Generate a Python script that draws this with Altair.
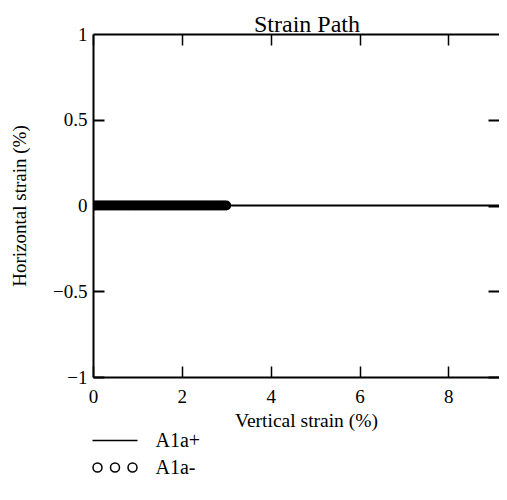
import altair as alt
import pandas as pd

# ---- data ----
x_ticks = [0, 2, 4, 6, 8]
y_ticks = [-1, -0.5, 0, 0.5, 1]

a1a_plus_x = [0.0, 1.0, 2.0, 3.0, 4.0, 5.0, 6.0, 7.0, 8.0, 9.3]
a1a_plus_y = [0.0, 0.0, 0.0, 0.0, 0.0, 0.0, 0.0, 0.0, 0.0, 0.0]

a1a_minus_x = [0.00, 0.05, 0.10, 0.15, 0.20, 0.25, 0.30, 0.35, 0.40, 0.45,
               0.50, 0.55, 0.60, 0.65, 0.70, 0.75, 0.80, 0.85, 0.90, 0.95,
               1.00, 1.05, 1.10, 1.15, 1.20, 1.25, 1.30, 1.35, 1.40, 1.45,
               1.50, 1.55, 1.60, 1.65, 1.70, 1.75, 1.80, 1.85, 1.90, 1.95,
               2.00, 2.05, 2.10, 2.15, 2.20, 2.25, 2.30, 2.35, 2.40, 2.45,
               2.50, 2.55, 2.60, 2.65, 2.70, 2.75, 2.80, 2.85, 2.90, 2.95,
               3.00]
a1a_minus_y = [0.0, 0.0, 0.0, 0.0, 0.0, 0.0, 0.0, 0.0, 0.0, 0.0,
               0.0, 0.0, 0.0, 0.0, 0.0, 0.0, 0.0, 0.0, 0.0, 0.0,
               0.0, 0.0, 0.0, 0.0, 0.0, 0.0, 0.0, 0.0, 0.0, 0.0,
               0.0, 0.0, 0.0, 0.0, 0.0, 0.0, 0.0, 0.0, 0.0, 0.0,
               0.0, 0.0, 0.0, 0.0, 0.0, 0.0, 0.0, 0.0, 0.0, 0.0,
               0.0, 0.0, 0.0, 0.0, 0.0, 0.0, 0.0, 0.0, 0.0, 0.0,
               0.0]

series_plus = "A1a+"
series_minus = "A1a-"

df_plus = pd.DataFrame({"x": a1a_plus_x, "y": a1a_plus_y, "series": series_plus})
df_minus = pd.DataFrame({"x": a1a_minus_x, "y": a1a_minus_y, "series": series_minus})

FONT = "Liberation Serif"
W, H = 406, 343

xs = alt.Scale(domain=[0, 9.14], nice=False, zero=False)
ys = alt.Scale(domain=[-1, 1], nice=False)

x_axis = alt.Axis(
    orient="bottom", values=x_ticks, format="d", ticks=False,
    labelPadding=10, labelFont=FONT, labelFontSize=19, labelColor="black",
    labelFlush=False,
    domainColor="black", domainWidth=2,
    grid=True, gridDash=[11, H - 22, 11, 2000], gridColor="black",
    gridWidth=1.5, gridOpacity=1,
    title="Vertical strain (%)", titleFont=FONT, titleFontSize=19.5,
    titleFontWeight="normal", titleColor="black",
    titleX=213, titleY=49, titleBaseline="alphabetic", titleAlign="center")

y_axis = alt.Axis(
    orient="left", values=y_ticks, ticks=False,
    labelExpr="datum.value < 0 ? '\u2212' + format(-datum.value, '~g') : format(datum.value, '~g')",
    labelPadding=6, labelFont=FONT, labelFontSize=19, labelColor="black",
    domainColor="black", domainWidth=2,
    grid=True,
    gridDash=alt.condition("datum.value == 1", alt.value([3000, 1]),
                           alt.value([11, W - 22, 11, 2000])),
    gridColor="black", gridWidth=2, gridOpacity=1,
    title="Horizontal strain (%)", titleFont=FONT, titleFontSize=19,
    titleFontWeight="normal", titleColor="black",
    titleX=-68, titleY=H / 2, titleBaseline="alphabetic", titleAlign="center")

three_circles = ("M-0.578,0 A0.2,0.2 0 1,1 -0.978,0 A0.2,0.2 0 1,1 -0.578,0 "
                 "M0.2,0 A0.2,0.2 0 1,1 -0.2,0 A0.2,0.2 0 1,1 0.2,0 "
                 "M0.978,0 A0.2,0.2 0 1,1 0.578,0 A0.2,0.2 0 1,1 0.978,0")

line = alt.Chart(df_plus).mark_line(strokeWidth=2, clip=True).encode(
    x=alt.X("x:Q", scale=xs, axis=x_axis),
    y=alt.Y("y:Q", scale=ys, axis=y_axis),
    color=alt.Color("series:N", scale=alt.Scale(domain=[series_plus], range=["black"]),
                    legend=alt.Legend(orient="none", legendX=-1.5, legendY=383,
                                      symbolType="stroke", symbolSize=2025,
                                      symbolStrokeWidth=1.5, labelFont=FONT,
                                      labelFontSize=20, labelColor="black",
                                      labelOffset=17, title=None, padding=0)),
)

pts = alt.Chart(df_minus).mark_point(shape="circle", filled=False, size=56,
                                     strokeWidth=2.5, opacity=1, clip=True).encode(
    x=alt.X("x:Q", scale=xs, axis=x_axis),
    y=alt.Y("y:Q", scale=ys, axis=y_axis),
    stroke=alt.Stroke("series:N", scale=alt.Scale(domain=[series_minus], range=["black"]),
                      legend=alt.Legend(orient="none", legendX=-1.5, legendY=410,
                                        symbolType=three_circles, symbolSize=2025,
                                        symbolStrokeWidth=1.5, labelFont=FONT,
                                        labelFontSize=20, labelColor="black",
                                        labelOffset=17, title=None, padding=0)),
)

chart = alt.layer(line, pts).properties(
    width=W, height=H,
    title=alt.TitleParams(text="Strain Path", font=FONT, fontSize=24,
                          fontWeight="normal", color="black", anchor="middle",
                          frame="group", dx=11, offset=-12),
    autosize=alt.AutoSizeParams(type="none"),
    padding={"left": 85, "top": 26, "right": 0, "bottom": 110},
).configure_view(strokeWidth=0)

chart.save("out.html", embed_options={"renderer": "svg", "actions": False})
